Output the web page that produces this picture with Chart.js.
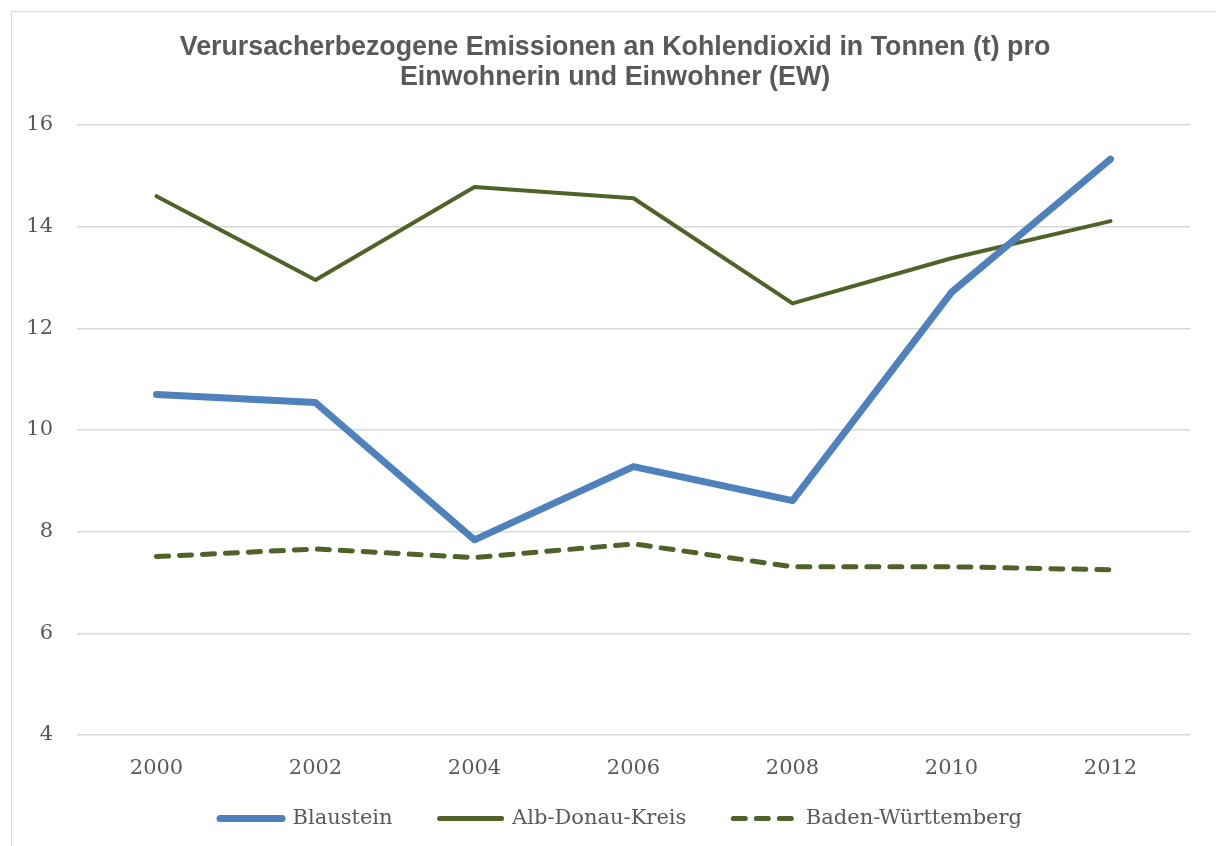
<!DOCTYPE html>
<html>
<head>
<meta charset="utf-8">
<script src="https://cdn.jsdelivr.net/npm/chart.js@4.4.0/dist/chart.umd.min.js"></script>
<style>
  html, body { margin: 0; padding: 0; background: #fff; }
  #wrap { width: 1216px; height: 846px; position: relative; }
</style>
</head>
<body>
<div id="wrap"><canvas id="co2Chart"></canvas></div>
<script>
var years = ['2000', '2002', '2004', '2006', '2008', '2010', '2012'];
var blaustein = [10.7, 10.54, 7.84, 9.28, 8.61, 12.71, 15.33];
var albDonau = [14.6, 12.95, 14.78, 14.56, 12.49, 13.38, 14.11];
var badenWue = [7.51, 7.66, 7.49, 7.76, 7.31, 7.31, 7.25];
var yTicks = [4, 6, 8, 10, 12, 14, 16];

var grey = '#595959';
var serif = 'DejaVu Serif';

// light frame round the chart, as in the original export
var framePlugin = {
  id: 'frame',
  beforeDraw: function (chart) {
    var c = chart.ctx;
    c.save();
    c.fillStyle = '#fff';
    c.fillRect(0, 0, chart.width, chart.height);
    c.strokeStyle = '#d9d9d9';
    c.lineWidth = 1;
    c.strokeRect(11.5, 11.5, chart.width + 10, chart.height + 10);
    c.restore();
  },
  // widen the label clip boxes so tick labels are not cut off
  afterLayout: function (chart) {
    chart.scales.y.left = 0;
    chart.scales.x.bottom = chart.scales.x.top + 60;
    chart.legend.left += 12;
  }
};

var ctx = document.getElementById('co2Chart').getContext('2d');
var myChart = new Chart(ctx, {
  type: 'line',
  data: {
    labels: years,
    datasets: [{
      label: 'Blaustein',
      data: blaustein,
      borderColor: '#4F81BD',
      backgroundColor: '#4F81BD',
      borderWidth: 7,
      borderCapStyle: 'round',
      borderJoinStyle: 'round',
      pointRadius: 0,
      tension: 0
    }, {
      label: 'Alb-Donau-Kreis',
      data: albDonau,
      borderColor: '#4F6228',
      backgroundColor: '#4F6228',
      borderWidth: 4,
      borderCapStyle: 'round',
      borderJoinStyle: 'round',
      pointRadius: 0,
      tension: 0
    }, {
      label: 'Baden-Württemberg',
      data: badenWue,
      borderColor: '#4F6228',
      backgroundColor: '#4F6228',
      borderWidth: 5,
      borderDash: [12, 11],
      borderCapStyle: 'round',
      borderJoinStyle: 'round',
      pointRadius: 0,
      tension: 0
    }]
  },
  options: {
    responsive: true,
    maintainAspectRatio: false,
    animation: false,
    layout: { padding: { left: 40, right: 26, top: 0, bottom: 7 } },
    plugins: {
      title: {
        display: true,
        text: ['Verursacherbezogene Emissionen an Kohlendioxid in Tonnen (t) pro', 'Einwohnerin und Einwohner (EW)'],
        color: grey,
        font: { family: 'Liberation Sans', size: 26.8, weight: 'bold', lineHeight: 1.12 },
        padding: { top: 33, bottom: 32 }
      },
      legend: {
        position: 'bottom',
        labels: {
          usePointStyle: true,
          pointStyle: 'line',
          pointStyleWidth: 62,
          color: grey,
          font: { family: serif, size: 21 },
          padding: 47,
          generateLabels: function (chart) {
            var items = Chart.defaults.plugins.legend.labels.generateLabels(chart);
            items.forEach(function (it) {
              var ds = chart.data.datasets[it.datasetIndex];
              it.lineDash = ds.borderDash || [];
              it.lineCap = 'round';
              it.lineWidth = Math.max(ds.borderWidth, 5);
              it.strokeStyle = ds.borderColor;
            });
            return items;
          }
        }
      },
      tooltip: { enabled: false }
    },
    scales: {
      x: {
        offset: true,
        afterFit: function (s) { s.height = 26; },
        grid: { display: false, drawTicks: false },
        border: { display: false },
        ticks: { color: grey, font: { family: serif, size: 21 }, padding: 21 }
      },
      y: {
        min: 4,
        max: 16,
        afterBuildTicks: function (s) { s.ticks = yTicks.map(function (v) { return { value: v }; }); },
        afterFit: function (s) { s.width = 37; },
        grid: { color: '#d9d9d9', lineWidth: 1.5, drawTicks: false },
        border: { display: false },
        ticks: { color: grey, font: { family: serif, size: 21 }, padding: 24 }
      }
    }
  },
  plugins: [framePlugin]
});
</script>
</body>
</html>
